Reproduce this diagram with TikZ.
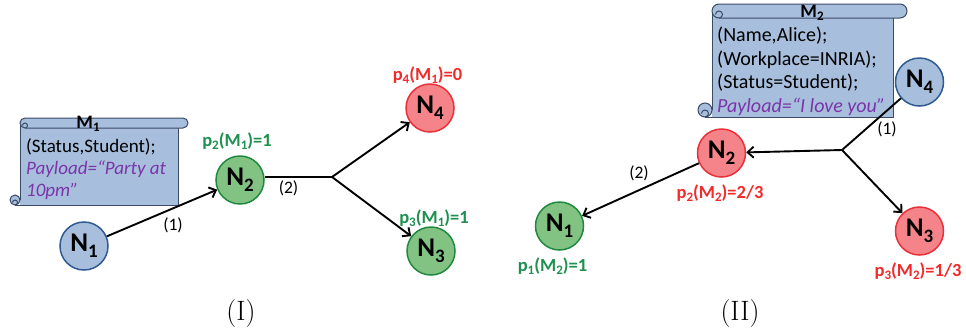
\documentclass[tikz,border=0pt]{standalone}
\usepackage{fontspec}
\newfontfamily\calfont{Carlito}
\usetikzlibrary{arrows.meta}
\definecolor{scrollfill}{HTML}{A7BEDD}
\definecolor{scrolldraw}{HTML}{3B4A66}
\definecolor{bluefill}{HTML}{A7BEDD}
\definecolor{bluedraw}{HTML}{2F5A92}
\definecolor{greenfill}{HTML}{82C282}
\definecolor{greendraw}{HTML}{1F8A3F}
\definecolor{redfill}{HTML}{F4848A}
\definecolor{reddraw}{HTML}{EA3038}
\definecolor{greentext}{HTML}{1E9050}
\definecolor{redtext}{HTML}{F22A2A}
\definecolor{purpletext}{HTML}{7A35A8}
\newcommand\Nn[1]{N\raisebox{-6pt}{\fontsize{19}{19}\selectfont #1}}
\newcommand\lsub[1]{\raisebox{-3.5pt}{\fontsize{13}{13}\selectfont #1}}
\newcommand\plab[3]{p\lsub{#1}(M\lsub{#2})=#3}
\newcommand\drawscroll[5]{%
  \fill[scrollfill] ({#1},{#2+#5}) rectangle ({#3},{#4});
  \draw[scrolldraw,line width=1pt] ({#1},{#2+#5}) -- ({#1},{#4-#5});
  \draw[scrolldraw,line width=1pt] ({#3},{#2+2*#5}) -- ({#3},{#4}) -- ({#1-#5},{#4});
  \draw[scrolldraw,fill=scrollfill,line width=1pt] ({#1+#5},{#2}) -- ({#3+2*#5-#5},{#2})
     arc(-90:90:{#5}) -- ({#1+#5},{#2+2*#5}) arc(90:270:{#5}) -- cycle;
  \draw[scrolldraw,line width=1pt] ({#1+#5},{#2+2*#5}) arc(90:-180:{#5/2});
  \draw[scrolldraw,fill=scrollfill,line width=1pt] ({#1-#5},{#4-#5}) circle ({#5});
  \draw[scrolldraw,line width=1pt] ({#1-#5},{#4}) arc(90:-180:{#5/2});
}
\tikzset{
  nd/.style={circle,minimum size=48pt,inner sep=0pt,line width=1.5pt,
    font=\calfont\bfseries\fontsize{27}{27}\selectfont},
  bluenode/.style={nd,fill=bluefill,draw=bluedraw},
  greennode/.style={nd,fill=greenfill,draw=greendraw},
  rednode/.style={nd,fill=redfill,draw=reddraw},
  edge/.style={line width=1.9pt,black},
  arr/.style={edge,-{Straight Barb[length=6pt,width=11pt]}},
  elab/.style={font=\calfont\fontsize{17.5}{17.5}\selectfont,inner sep=0pt},
  plg/.style={anchor=base,inner sep=0pt,text=greentext,font=\calfont\bfseries\fontsize{18.5}{18.5}\selectfont},
  plr/.style={anchor=base,inner sep=0pt,text=redtext,font=\calfont\bfseries\fontsize{18.5}{18.5}\selectfont},
  msg/.style={anchor=base west,inner sep=0pt,font=\calfont\fontsize{#1}{#1}\selectfont},
  pay/.style={anchor=base west,inner sep=0pt,text=purpletext,font=\calfont\itshape\fontsize{#1}{#1}\selectfont},
  mtitle/.style={anchor=base,inner sep=0pt,font=\calfont\bfseries\fontsize{19}{19}\selectfont},
  panel/.style={anchor=base,inner sep=0pt,font=\fontsize{28}{28}\selectfont}
}
\begin{document}
\begin{tikzpicture}[x=1pt,y=-1pt]
\useasboundingbox (0,0) rectangle (966,330);
% ---------- Panel I ----------
\drawscroll{20}{118}{178}{205}{5}
\node[mtitle] (m1t) at (88,128) {M\lsub{1}};
\node[msg=19] (m1a) at (26,152) {(Status,Student);};
\node[pay=19] (m1b) at (26,174) {Payload=“Party at};
\node[pay=19] (m1c) at (26,196) {10pm”};

\node[bluenode] (a1) at (84,246) {\Nn{1}};
\node[greennode] (a2) at (240,180) {\Nn{2}};
\node[rednode] (a4) at (430,108) {\Nn{4}};
\node[greennode] (a3) at (431,251) {\Nn{3}};
\coordinate (j1) at (332,177);

\draw[arr] (a1) -- (a2);
\draw[edge] (a2.east |- j1) -- (j1);
\draw[arr] (j1) -- (a4);
\draw[arr] (j1) -- (a3);

\node[elab] (l1) at (173,225) {(1)};
\node[elab] (l2) at (288.5,188) {(2)};
\node[plg] (p2) at (237,146) {\plab{2}{1}{1}};
\node[plr] (p4) at (427.5,80) {\plab{4}{1}{0}};
\node[plg] (p3) at (434,223) {\plab{3}{1}{1}};

\node[panel] (t1) at (241,320) {(I)};

% ---------- Panel II ----------
\drawscroll{712}{4}{893}{117}{7}
\node[mtitle] (m2t) at (812,17) {M\lsub{2}};
\node[msg=20] (m2a) at (717,41) {(Name,Alice);};
\node[msg=20] (m2b) at (717,65) {(Workplace=INRIA);};
\node[msg=20] (m2c) at (717,88.5) {(Status=Student);};
\node[pay=20] (m2d) at (717,112) {Payload=“I love you”};

\node[bluenode] (b4) at (919.5,82) {\Nn{4}};
\node[rednode] (b2) at (721.5,153) {\Nn{2}};
\node[rednode] (b3) at (919.5,231) {\Nn{3}};
\node[greennode] (b1) at (559.5,226) {\Nn{1}};
\coordinate (j2) at (842,150);

\draw[edge] (b4) -- (j2);
\draw[arr] (j2) -- (b2);
\draw[arr] (j2) -- (b3);
\draw[arr] (b2) -- (b1);

\node[elab] (l3) at (887,129) {(1)};
\node[elab] (l4) at (639,173) {(2)};
\node[plr] (q2) at (720,198) {\plab{2}{2}{2/3}};
\node[plg] (q1) at (552.5,271) {\plab{1}{2}{1}};
\node[plr] (q3) at (918,276) {\plab{3}{2}{1/3}};

\node[panel] (t2) at (740,320) {(II)};
\end{tikzpicture}
\end{document}
